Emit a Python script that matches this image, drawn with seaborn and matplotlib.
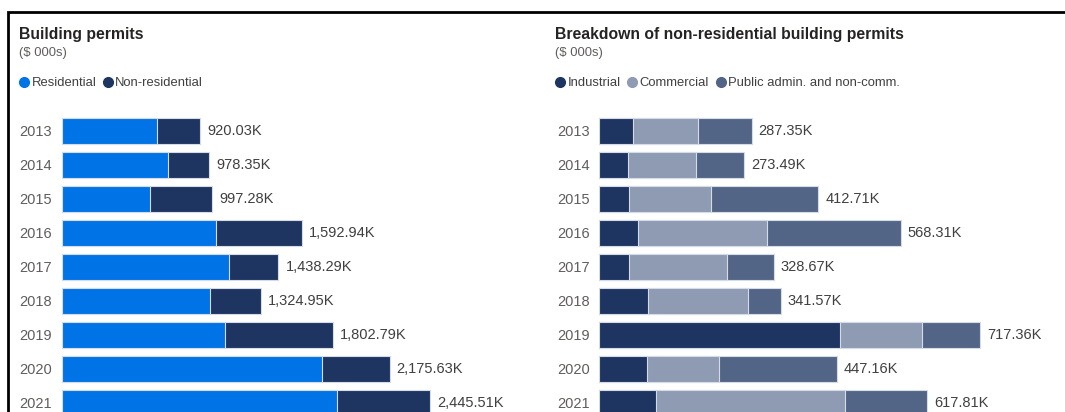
import numpy as np
import pandas as pd
import seaborn as sns
import matplotlib.pyplot as plt
from matplotlib.lines import Line2D
from matplotlib.patches import Rectangle

# data ($ 000s)
years = ['2013', '2014', '2015', '2016', '2017', '2018', '2019', '2020', '2021']
residential = [632.68, 704.86, 584.57, 1024.63, 1109.62, 983.38, 1085.43, 1728.47, 1827.70]
non_residential = [287.35, 273.49, 412.71, 568.31, 328.67, 341.57, 717.36, 447.16, 617.81]
industrial = [63.5, 54.0, 56.6, 73.5, 56.6, 91.8, 453.0, 90.0, 106.0]
commercial = [122.5, 128.2, 153.9, 242.5, 184.6, 187.8, 155.0, 135.7, 356.7]
public_admin = [101.35, 91.29, 202.21, 252.31, 87.47, 61.97, 109.36, 221.46, 155.11]

left_series = ['Residential', 'Non-residential']
right_series = ['Industrial', 'Commercial', 'Public admin. and non-comm.']

c_res = '#0073E6'
c_ind = '#1E3562'
c_com = '#8F9BB3'
c_pub = '#536587'

sns.set_style('white')
plt.rcParams['font.family'] = ['Liberation Sans', 'DejaVu Sans']

W, H = 1065, 412
fig = plt.figure(figsize=(W / 100, H / 100), dpi=100)


def px(x, y):
    return x / W, 1 - y / H


def stacked(ax, parts, colors, xmax):
    df = pd.DataFrame({'year': years})
    cum = np.cumsum(np.array(parts), axis=0)
    # draw the full stack first, then the shorter ones on top
    for i in range(len(parts) - 1, -1, -1):
        sns.barplot(x=cum[i], y=df['year'], orient='h', color=colors[i], saturation=1,
                    width=0.75, edgecolor='#d5dce8', linewidth=0.8, ax=ax)
    totals = cum[-1]
    ax.bar_label(ax.containers[0], labels=['{:,.2f}K'.format(t) for t in totals],
                 padding=5, fontsize=10.5, color='#404040')
    ax.set_xlim(0, xmax)
    ax.set_ylim(8.265, -0.5)
    ax.set_xlabel('')
    ax.set_ylabel('')
    ax.set_xticks([])
    ax.tick_params(axis='y', length=0, pad=7, labelsize=10.5, labelcolor='#605E5C')
    sns.despine(ax=ax, left=True, bottom=True)


axh = (H - 114) / H
ax1 = fig.add_axes([61.7 / W, 0, (520 - 61.7) / W, axh])
stacked(ax1, [residential, non_residential], [c_res, c_ind], (520 - 61.7) / 0.1507)

ax2 = fig.add_axes([599.3 / W, 0, (1060 - 599.3) / W, axh])
stacked(ax2, [industrial, commercial, public_admin], [c_ind, c_com, c_pub], (1060 - 599.3) / 0.5307)

# titles
fig.text(*px(19, 35), 'Building permits', fontsize=11.3, fontweight='bold', color='#252423', va='center')
fig.text(*px(19, 53), '($ 000s)', fontsize=9.4, color='#605E5C', va='center')
fig.text(*px(555, 35), 'Breakdown of non-residential building permits', fontsize=11.3,
         fontweight='bold', color='#252423', va='center')
fig.text(*px(555, 53), '($ 000s)', fontsize=9.4, color='#605E5C', va='center')


def dot_legend(x, labels, colors):
    handles = [Line2D([], [], marker='o', linestyle='', color=c, markersize=7) for c in colors]
    fig.legend(handles, labels, loc='center left', bbox_to_anchor=px(x, 83), ncol=len(labels),
               frameon=False, handlelength=0.8, handletextpad=0.15, columnspacing=0.5,
               borderpad=0, borderaxespad=0, fontsize=9.4, labelcolor='#404040')


dot_legend(19, left_series, [c_res, c_ind])
dot_legend(555, right_series, [c_ind, c_com, c_pub])

# frame around the visual
fig.patches.append(Rectangle(px(8, 12 + 500), 2, 500 / H, transform=fig.transFigure,
                             fill=False, edgecolor='black', linewidth=2))

fig.savefig('out.png', dpi=100)
